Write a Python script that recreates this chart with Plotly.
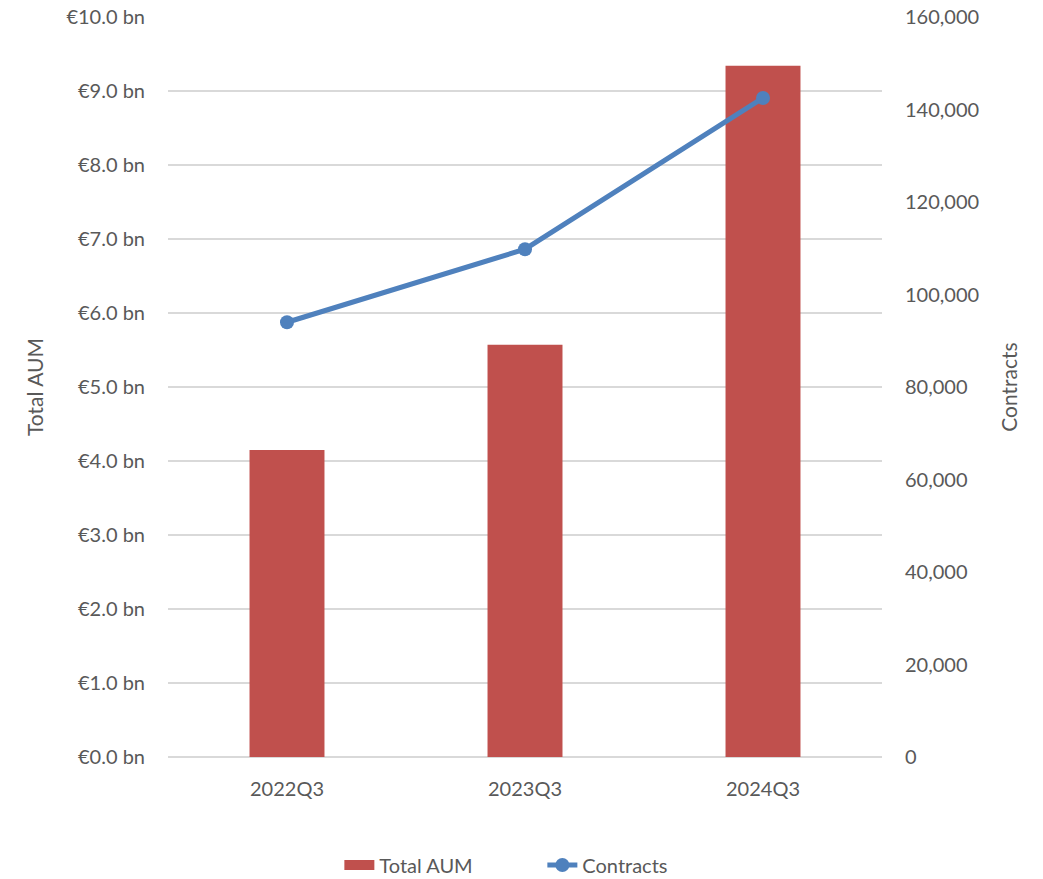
import plotly.graph_objects as go

categories = ["2022Q3", "2023Q3", "2024Q3"]
total_aum = [4.15, 5.57, 9.34]
contracts = [94000, 109800, 142500]

left_ticks = [0, 1, 2, 3, 4, 5, 6, 7, 8, 9, 10]
left_labels = ["€%.1f bn" % v for v in left_ticks]
right_ticks = [0, 20000, 40000, 60000, 80000, 100000, 120000, 140000, 160000]
right_labels = ["{:,}".format(v) for v in right_ticks]

FONT = "Lato, 'Open Sans', sans-serif"
TXT = "#595959"
BAR = "#c0504d"
LINE = "#4f81bd"

fig = go.Figure()
fig.add_trace(go.Bar(
    x=categories, y=total_aum, name="Total AUM",
    marker=dict(color=BAR, line=dict(width=0)),
    yaxis="y", showlegend=False,
))
# legend entry for the bars (wide rectangle swatch)
fig.add_trace(go.Scatter(
    x=[categories[0]], y=[None], name="Total AUM", mode="lines",
    line=dict(color=BAR, width=14), yaxis="y", hoverinfo="skip",
))
fig.add_trace(go.Scatter(
    x=categories, y=contracts, name="Contracts",
    mode="lines+markers",
    line=dict(color=LINE, width=5),
    marker=dict(color=LINE, size=14),
    yaxis="y2",
))

fig.update_layout(
    width=1043, height=879,
    margin=dict(l=168, r=161, t=17, b=122, autoexpand=False),
    paper_bgcolor="white", plot_bgcolor="white",
    font=dict(family=FONT, size=20, color=TXT),
    bargap=0.685,
    showlegend=True,
    legend=dict(orientation="h", x=0.24, xanchor="left",
                yref="container", y=0.016, yanchor="middle",
                entrywidth=158, entrywidthmode="pixels",
                font=dict(size=20, color=TXT), tracegroupgap=0),
    xaxis=dict(showgrid=False, showline=False, ticks="", tickfont=dict(size=20, color=TXT),
               ticklabelstandoff=18, automargin=False),
    yaxis=dict(range=[0, 10], tickmode="array", tickvals=left_ticks, ticktext=left_labels,
               showgrid=True, gridcolor="#d9d9d9", gridwidth=1.5,
               zeroline=True, zerolinecolor="#d9d9d9", zerolinewidth=2,
               showline=False, ticks="", ticklabelstandoff=22, automargin=False,
               title=dict(text="Total AUM", font=dict(size=21, color=TXT), standoff=17),
               tickfont=dict(size=20, color=TXT)),
    yaxis2=dict(range=[0, 160000], tickmode="array", tickvals=right_ticks, ticktext=right_labels,
                overlaying="y", side="right", showgrid=False, zeroline=False,
                showline=False, ticks="", ticklabelstandoff=22, automargin=False,
                title=dict(text="Contracts", font=dict(size=21, color=TXT), standoff=24),
                tickfont=dict(size=20, color=TXT)),
)

fig.write_html("out.html")
